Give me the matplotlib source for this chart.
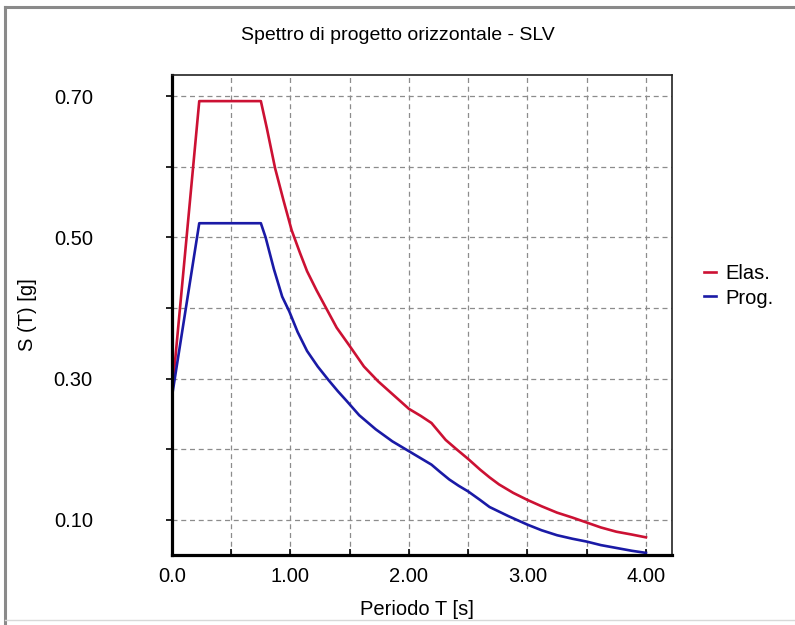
import matplotlib
matplotlib.use('Agg')
import matplotlib.pyplot as plt
from matplotlib.lines import Line2D

# Arial-like font as in the original screenshot
plt.rcParams['font.family'] = ['Liberation Sans', 'DejaVu Sans']

# Periodo T [s] and spectrum values
t_elas = [0.0, 0.23, 0.75, 0.80, 0.87, 0.94, 1.01, 1.08, 1.14, 1.22, 1.30, 1.39, 1.50, 1.62,
          1.74, 1.86, 2.00, 2.10, 2.19, 2.31, 2.40, 2.50, 2.60, 2.68, 2.76, 2.88, 3.00,
          3.12, 3.25, 3.38, 3.50, 3.62, 3.75, 3.88, 4.00]
s_elas = [0.278, 0.693, 0.693, 0.655, 0.598, 0.553, 0.510, 0.478, 0.452, 0.425, 0.400, 0.372,
          0.346, 0.317, 0.296, 0.278, 0.257, 0.247, 0.237, 0.213, 0.200, 0.186, 0.171, 0.160,
          0.150, 0.138, 0.128, 0.119, 0.110, 0.103, 0.096, 0.089, 0.083, 0.079, 0.075]

t_prog = [0.0, 0.23, 0.75, 0.79, 0.86, 0.93, 0.99, 1.06, 1.14, 1.23, 1.32, 1.40, 1.47, 1.58,
          1.72, 1.86, 2.00, 2.10, 2.19, 2.26, 2.34, 2.42, 2.50, 2.60, 2.68, 2.84, 3.00,
          3.12, 3.25, 3.38, 3.50, 3.62, 3.75, 3.88, 4.00]
s_prog = [0.275, 0.520, 0.520, 0.500, 0.455, 0.416, 0.395, 0.366, 0.339, 0.317, 0.298, 0.282,
          0.269, 0.248, 0.228, 0.211, 0.197, 0.187, 0.178, 0.168, 0.157, 0.148, 0.140, 0.128,
          0.118, 0.105, 0.093, 0.085, 0.078, 0.073, 0.069, 0.064, 0.060, 0.056, 0.053]

x_ticks = [0.0, 0.5, 1.0, 1.5, 2.0, 2.5, 3.0, 3.5, 4.0]
x_labels = ['0.0', '', '1.00', '', '2.00', '', '3.00', '', '4.00']
y_ticks = [0.1, 0.2, 0.3, 0.4, 0.5, 0.6, 0.7]
y_labels = ['0.10', '', '0.30', '', '0.50', '', '0.70']

fig = plt.figure(figsize=(7.95, 6.25), dpi=100)
ax = fig.add_axes([172 / 795, 1 - 555 / 625, 500 / 795, 480 / 625])

ax.plot(t_elas, s_elas, color='#cc1133', lw=1.9, label='Elas.')
ax.plot(t_prog, s_prog, color='#1a1aa6', lw=1.9, label='Prog.')

ax.set_xlim(0, 4.22)
ax.set_ylim(0.05, 0.73)
ax.set_xticks(x_ticks)
ax.set_xticklabels(x_labels)
ax.set_yticks(y_ticks)
ax.set_yticklabels(y_labels)
ax.grid(True, color='#8c8c8c', linestyle=(0, (4, 3)), lw=0.9)

ax.tick_params(axis='x', direction='in', length=4, width=1.2, pad=9, labelsize=14.5)
ax.tick_params(axis='y', direction='out', length=4, width=1.2, pad=53, labelsize=14.5)

for side in ['left', 'bottom']:
    ax.spines[side].set_linewidth(2.3)
for side in ['top', 'right']:
    ax.spines[side].set_linewidth(1.2)
    ax.spines[side].set_color('#222222')

ax.set_xlabel('Periodo T [s]', fontsize=14.5)
ax.xaxis.set_label_coords(0.49, -0.094)
ax.set_ylabel('S (T) [g]', fontsize=14.5)
ax.yaxis.set_label_coords(-0.27, 0.5)

fig.text(0.5, 1 - 35 / 625, 'Spettro di progetto orizzontale - SLV',
         ha='center', va='center', fontsize=14)

ax.legend(loc='center left', bbox_to_anchor=(704 / 795, 1 - 286 / 625),
          bbox_transform=fig.transFigure, frameon=False, fontsize=14.5,
          handlelength=0.6, handletextpad=0.45, labelspacing=0.25,
          borderpad=0, borderaxespad=0)

# window border of the screenshot
fig.add_artist(Line2D([5 / 795, 5 / 795], [0, 1 - 7 / 625], transform=fig.transFigure,
                      color='#8a8a8a', lw=2.2))
fig.add_artist(Line2D([5 / 795, 1], [1 - 7 / 625, 1 - 7 / 625], transform=fig.transFigure,
                      color='#8a8a8a', lw=2.2))
fig.add_artist(Line2D([5 / 795, 1], [1 - 620 / 625, 1 - 620 / 625], transform=fig.transFigure,
                      color='#d8d8d8', lw=1.0))

plt.savefig('out.png', dpi=100)
